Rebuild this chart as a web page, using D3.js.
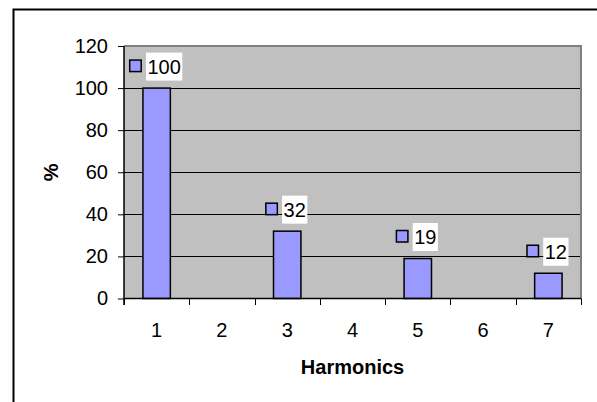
<!DOCTYPE html>
<html>
<head>
<meta charset="utf-8">
<script src="https://cdn.jsdelivr.net/npm/d3@7"></script>
<style>
  html, body { margin: 0; padding: 0; background: #fff; }
  svg { display: block; font-family: "Liberation Sans", Arial, sans-serif; }
</style>
</head>
<body>
<svg id="chart" width="597" height="402"></svg>
<script>
const categories = ["1", "2", "3", "4", "5", "6", "7"];
const values = [100, null, 32, null, 19, null, 12];
const yTicks = [0, 20, 40, 60, 80, 100, 120];
const xTitle = "Harmonics";
const yTitle = "%";

const W = 597, H = 402;
const plot = { left: 124, right: 581, top: 46, bottom: 298.5 };
const fontSize = 20;
const barFill = "#9999FF";
const FF = "'Liberation Sans', Arial, sans-serif";

const svg = d3.select("#chart");
svg.append("rect").attr("width", W).attr("height", H).attr("fill", "#fff");

// outer chart border (extends past the window on right and bottom)
svg.append("rect")
  .attr("x", 13.5).attr("y", 9.5)
  .attr("width", 700).attr("height", 500)
  .attr("fill", "none").attr("stroke", "#000").attr("stroke-width", 2);

const y = d3.scaleLinear().domain([0, 120]).range([plot.bottom, plot.top]);
const xOuter = d3.scaleBand().domain(categories).range([plot.left, plot.right]).padding(0);
const xBar = d3.scaleBand().domain(categories).range([plot.left, plot.right])
  .paddingInner(0.58).paddingOuter(0.29);

// plot background
svg.append("rect")
  .attr("x", plot.left).attr("y", plot.top)
  .attr("width", plot.right - plot.left).attr("height", plot.bottom - plot.top)
  .attr("fill", "#C0C0C0");

// gridlines
svg.append("g").selectAll("line")
  .data(yTicks.filter(t => t > 0 && t < 120))
  .join("line")
  .attr("x1", plot.left).attr("x2", plot.right)
  .attr("y1", d => Math.round(y(d)) + 0.5).attr("y2", d => Math.round(y(d)) + 0.5)
  .attr("stroke", "#000").attr("stroke-width", 1);

// plot border (gray) top & right
svg.append("path")
  .attr("d", `M${plot.left},${plot.top} H${plot.right} V${plot.bottom}`)
  .attr("fill", "none").attr("stroke", "#808080").attr("stroke-width", 2);

// bars
const barData = categories.map((c, i) => ({ c, v: values[i] })).filter(d => d.v != null);
svg.append("g").selectAll("rect")
  .data(barData)
  .join("rect")
  .attr("x", d => xBar(d.c))
  .attr("y", d => y(d.v))
  .attr("width", xBar.bandwidth())
  .attr("height", d => y(0) - y(d.v))
  .attr("fill", barFill)
  .attr("stroke", "#000").attr("stroke-width", 1.5);

// Y axis
const yAxis = d3.axisLeft(y).tickValues(yTicks).tickSize(6).tickSizeOuter(0).tickPadding(10);
const gy = svg.append("g").attr("transform", `translate(${plot.left},0)`).call(yAxis);
gy.select(".domain").remove();
gy.selectAll(".tick line").attr("stroke", "#000");
gy.selectAll(".tick text").attr("font-size", fontSize).attr("fill", "#000").attr("font-family", FF);
svg.append("line")
  .attr("x1", plot.left).attr("x2", plot.left)
  .attr("y1", plot.top).attr("y2", plot.bottom + 6.5)
  .attr("stroke", "#000").attr("stroke-width", 1.5);

// X axis: labels at band centers
const xAxis = d3.axisBottom(xOuter).tickSize(0).tickPadding(24);
const gx = svg.append("g").attr("transform", `translate(0,${plot.bottom})`).call(xAxis);
gx.select(".domain").remove();
gx.selectAll(".tick text").attr("font-size", fontSize).attr("fill", "#000").attr("font-family", FF);
// x tick marks at category boundaries
const bounds = categories.map(c => xOuter(c)).concat([plot.right]);
svg.append("g").selectAll("line")
  .data(bounds)
  .join("line")
  .attr("x1", d => Math.round(d) + 0.5).attr("x2", d => Math.round(d) + 0.5)
  .attr("y1", plot.bottom).attr("y2", plot.bottom + 6.5)
  .attr("stroke", "#000").attr("stroke-width", 1);
svg.append("line")
  .attr("x1", plot.left).attr("x2", plot.right)
  .attr("y1", plot.bottom).attr("y2", plot.bottom)
  .attr("stroke", "#000").attr("stroke-width", 1.5);

// axis titles
svg.append("text")
  .attr("x", (plot.left + plot.right) / 2).attr("y", 374)
  .attr("text-anchor", "middle").attr("font-weight", "bold").attr("font-size", fontSize)
  .attr("font-family", FF)
  .text(xTitle);
svg.append("text")
  .attr("transform", `translate(57.5,${(plot.top + plot.bottom) / 2}) rotate(-90)`)
  .attr("text-anchor", "middle").attr("font-weight", "bold").attr("font-size", fontSize)
  .attr("font-family", FF)
  .text(yTitle);

// data labels with legend key
const labels = svg.append("g");
barData.forEach(d => {
  const g = labels.append("g");
  const cy = y(d.v) - 21.5;
  const t = g.append("text").attr("font-size", fontSize).attr("font-family", FF)
    .attr("fill", "#000").text(d.v);
  const tw = t.node().getComputedTextLength();
  const boxW = tw + 3;
  const keyS = 13, gap = 4;
  const total = keyS + gap + boxW;
  const cx = xBar(d.c) + xBar.bandwidth() / 2 - 1;
  const x0 = cx - total / 2;
  g.insert("rect", "text")
    .attr("x", x0 + keyS + gap).attr("y", cy - 14)
    .attr("width", boxW).attr("height", 28).attr("fill", "#fff");
  g.append("rect")
    .attr("x", x0 + 0.75).attr("y", cy - keyS / 2)
    .attr("width", keyS - 1.5).attr("height", keyS - 1.5)
    .attr("fill", barFill).attr("stroke", "#000").attr("stroke-width", 1.5);
  t.attr("x", x0 + keyS + gap + 1.5).attr("y", cy + 7);
});
</script>
</body>
</html>
